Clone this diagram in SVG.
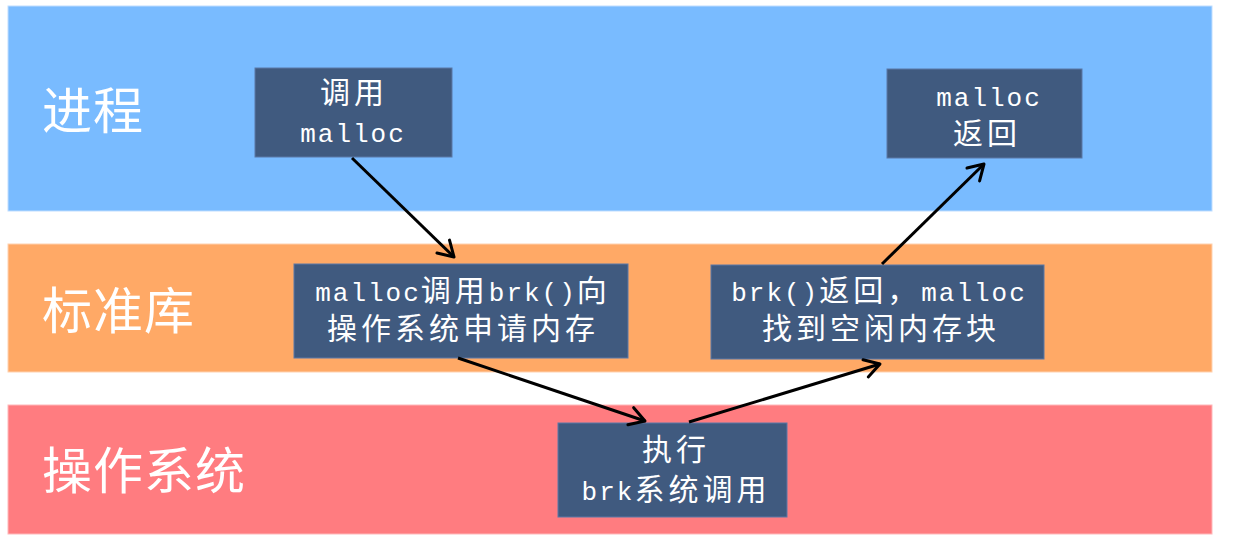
<svg xmlns="http://www.w3.org/2000/svg" width="1241" height="539" viewBox="0 0 1241 539">
<style>
.band-label{font-family:"Noto Sans CJK SC","Noto Sans",sans-serif;font-size:50px;fill:#fff;letter-spacing:1px}
.box{fill:#405A7F;stroke:#5A78A8;stroke-width:1}
.t{font-family:"Liberation Mono","Noto Sans CJK SC",monospace;fill:#fff;text-anchor:middle}
.cj{font-family:"Noto Sans CJK SC",sans-serif;font-size:30px;letter-spacing:4px}
.lt{font-family:"Liberation Mono",monospace;font-size:26px;letter-spacing:2px}
.conn{stroke:#000;stroke-width:3;fill:none;marker-end:url(#arr)}
</style>
<defs>
<marker id="arr" markerUnits="userSpaceOnUse" viewBox="-18 -11 20 22" refX="0" refY="0" markerWidth="20" markerHeight="22" orient="auto">
<path d="M-15,-9 L0,0 L-15,9" fill="none" stroke="#000" stroke-width="3" stroke-linecap="round" stroke-linejoin="round"/>
</marker>
</defs>
<rect width="1241" height="539" fill="#fff"/>
<g id="band-process">
<rect x="8" y="6" width="1204" height="205" fill="#79BBFF" stroke="#BFDDFF" stroke-width="1"/>
<text class="band-label" x="42" y="129">进程</text>
</g>
<g id="band-stdlib">
<rect x="8" y="244" width="1204" height="128" fill="#FFA966" stroke="#FFD2B0" stroke-width="1"/>
<text class="band-label" x="42" y="329">标准库</text>
</g>
<g id="band-os">
<rect x="8" y="405" width="1204" height="129" fill="#FF7C80" stroke="#FFB8BA" stroke-width="1"/>
<text class="band-label" x="42" y="489">操作系统</text>
</g>
<g id="node-call-malloc">
<rect class="box" x="255" y="68" width="197" height="89"/>
<text class="t" x="354" y="103"><tspan class="cj">调用</tspan></text>
<text class="t" x="353" y="142"><tspan class="lt">malloc</tspan></text>
</g>
<g id="node-malloc-return">
<rect class="box" x="887" y="69" width="195" height="89"/>
<text class="t" x="989" y="106"><tspan class="lt">malloc</tspan></text>
<text class="t" x="987" y="144"><tspan class="cj">返回</tspan></text>
</g>
<g id="node-malloc-brk">
<rect class="box" x="294" y="264" width="334" height="94"/>
<text class="t" x="463" y="301"><tspan class="lt">malloc</tspan><tspan class="cj">调用</tspan><tspan class="lt">brk()</tspan><tspan class="cj">向</tspan></text>
<text class="t" x="463" y="339"><tspan class="cj">操作系统申请内存</tspan></text>
</g>
<g id="node-brk-return">
<rect class="box" x="711" y="265" width="333" height="94"/>
<text class="t" x="879" y="301"><tspan class="lt">brk()</tspan><tspan class="cj">返回，</tspan><tspan class="lt">malloc</tspan></text>
<text class="t" x="881" y="339"><tspan class="cj">找到空闲内存块</tspan></text>
</g>
<g id="node-exec-brk">
<rect class="box" x="558" y="423" width="229" height="94"/>
<text class="t" x="676" y="460"><tspan class="cj">执行</tspan></text>
<text class="t" x="676" y="500"><tspan class="lt">brk</tspan><tspan class="cj">系统调用</tspan></text>
</g>
<g id="connectors">
<line class="conn" x1="352" y1="158" x2="454" y2="257"/>
<line class="conn" x1="458" y1="358" x2="645" y2="421"/>
<line class="conn" x1="689" y1="422" x2="880" y2="364"/>
<line class="conn" x1="882" y1="264" x2="984" y2="164"/>
</g>
</svg>
